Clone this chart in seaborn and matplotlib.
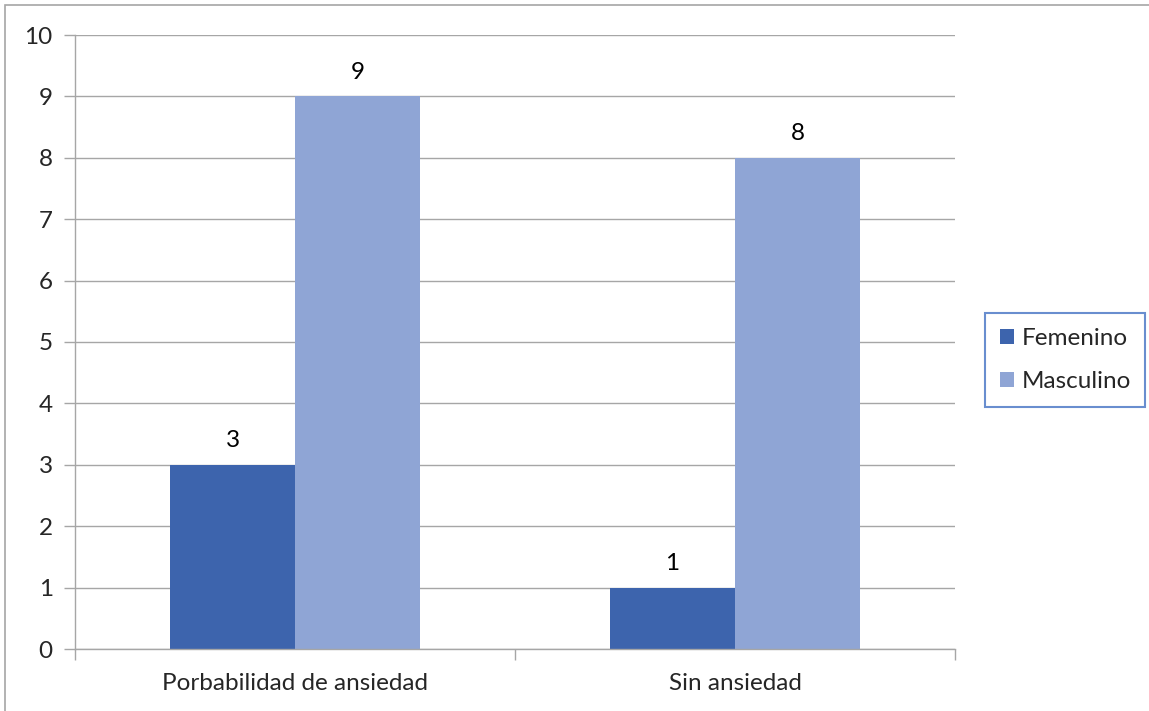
import matplotlib
matplotlib.use("Agg")
import matplotlib.pyplot as plt
import seaborn as sns
import pandas as pd
from matplotlib.patches import Rectangle

categories = ["Porbabilidad de ansiedad", "Sin ansiedad"]
femenino = [3, 1]
masculino = [9, 8]
series = ["Femenino", "Masculino"]
colors = ["#3D64AD", "#8FA5D5"]

df = pd.DataFrame({
    "categoria": categories * 2,
    "valor": femenino + masculino,
    "sexo": [series[0]] * len(categories) + [series[1]] * len(categories),
})

sns.set_theme(style="white")
plt.rcParams["font.family"] = ["Lato", "DejaVu Sans"]
FS = 17.5

fig = plt.figure(figsize=(11.49, 7.11), dpi=100)
ax = fig.add_axes([75 / 1149, 1 - 649 / 711, 880 / 1149, 614 / 711])

sns.barplot(data=df, x="categoria", y="valor", hue="sexo", palette=colors,
            width=0.568, saturation=1, ax=ax, legend=False, errorbar=None,
            linewidth=0, edgecolor="none")

for cont in ax.containers:
    ax.bar_label(cont, fmt="%d", padding=10, fontsize=FS, color="black")

ax.set_ylim(0, 10)
ax.set_xlim(-0.5, 1.5)
ax.set_yticks(range(0, 11))
ax.set_xlabel("")
ax.set_ylabel("")
ax.yaxis.grid(True, color="#A6A6A6", linewidth=1)
ax.set_axisbelow(True)

for side in ["top", "right"]:
    ax.spines[side].set_visible(False)
for side in ["left", "bottom"]:
    ax.spines[side].set_color("#A6A6A6")
    ax.spines[side].set_linewidth(1)

# category labels centred, boundary tick marks between groups
ax.set_xticks([0, 1])
ax.set_xticklabels(categories, fontsize=FS)
ax.tick_params(axis="x", length=0, pad=17)
ax.set_xticks([-0.5, 0.5, 1.5], minor=True)
ax.tick_params(axis="x", which="minor", length=8, color="#A6A6A6", width=1, direction="out", bottom=True)
ax.tick_params(axis="y", length=8, color="#A6A6A6", width=1, direction="out", left=True, labelsize=FS, pad=8)

handles = [Rectangle((0, 0), 1, 1, facecolor=c, edgecolor="none") for c in colors]
leg = fig.legend(handles, series, loc="center left",
                 bbox_to_anchor=(985 / 1149, 1 - 360 / 711),
                 frameon=True, fancybox=False, fontsize=FS,
                 handlelength=0.6, handleheight=0.6, handletextpad=0.3,
                 labelspacing=0.9, borderpad=0.6, borderaxespad=0)
leg.get_frame().set_edgecolor("#4472C4")
leg.get_frame().set_linewidth(1.5)

# outer chart border
fig.patches.append(Rectangle((5 / 1149, -0.1), 1.2, 1 - 5 / 711 + 0.1,
                             transform=fig.transFigure, fill=False,
                             edgecolor="#A6A6A6", linewidth=1.2))

fig.savefig("out.png", dpi=100)
